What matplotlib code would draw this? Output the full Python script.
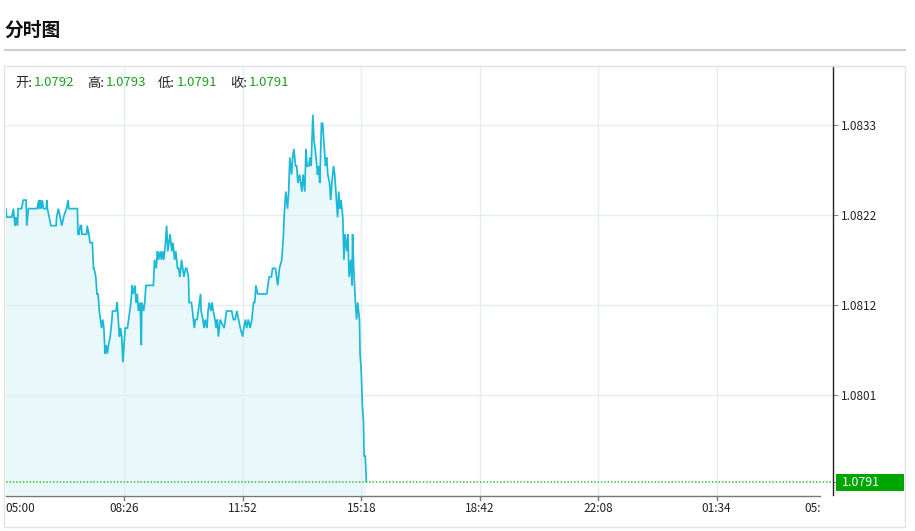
import matplotlib
matplotlib.use("Agg")
import matplotlib.pyplot as plt
from matplotlib.lines import Line2D
from matplotlib.patches import Rectangle
from matplotlib.transforms import Bbox

plt.rcParams['font.family'] = ['Noto Sans CJK SC', 'DejaVu Sans']

# ---------------- data ----------------
title = "分时图"
ohlc_names = ["开", "高", "低", "收"]
ohlc_values = ["1.0792", "1.0793", "1.0791", "1.0791"]
last_price = 1.0791

x_tick_labels = ["05:00", "08:26", "11:52", "15:18", "18:42", "22:08", "01:34", "05:00"]
y_tick_values = [1.08328, 1.08223, 1.08117, 1.08012]

# minutes since 05:00
minutes = [0, 1, 10, 13, 14, 16, 17, 20, 21, 27, 30, 35, 36, 39, 54, 57, 58, 59, 61, 63,
           65, 70, 71, 72, 75, 78, 87, 88, 91, 94, 97, 100, 105, 108, 109, 124, 125, 127, 129, 131,
           132, 140, 141, 144, 146, 150, 152, 153, 156, 158, 160, 162, 164, 166, 168, 170, 172, 174, 176, 178,
           181, 184, 185, 191, 193, 195, 197, 199, 201, 203, 205, 207, 211, 213, 217, 219, 221, 224, 226, 228,
           230, 233, 235, 236, 239, 241, 243, 256, 258, 261, 263, 265, 268, 270, 272, 274, 277, 279, 281, 283,
           285, 288, 290, 293, 295, 298, 300, 302, 305, 307, 309, 312, 314, 317, 318, 322, 324, 327, 329, 332,
           336, 338, 339, 342, 344, 346, 349, 351, 353, 356, 358, 360, 363, 365, 367, 369, 372, 379, 381, 383,
           392, 395, 398, 401, 404, 407, 411, 413, 416, 418, 421, 424, 427, 430, 432, 434, 437, 453, 455, 457,
           461, 463, 468, 470, 472, 475, 479, 482, 483, 485, 486, 489, 491, 493, 496, 498, 500, 503, 505, 507,
           510, 512, 514, 516, 519, 521, 523, 526, 528, 530, 533, 535, 537, 540, 541, 543, 545, 548, 550, 552,
           555, 557, 559, 562, 564, 566, 569, 571, 573, 576, 578, 580, 582, 585, 587, 589, 592, 594, 596, 599,
           601, 602, 604, 607, 609, 611, 614, 615, 617, 619, 621, 622, 624, 626]
prices = [1.0823, 1.0822, 1.0822, 1.0823, 1.0822, 1.0821, 1.0822, 1.0821, 1.0823, 1.0823,
          1.0824, 1.0824, 1.0821, 1.0823, 1.0823, 1.0824, 1.0823, 1.0824, 1.0823, 1.0824,
          1.0823, 1.0823, 1.0824, 1.0823, 1.0822, 1.0821, 1.0821, 1.0822, 1.0823, 1.0822,
          1.0821, 1.0822, 1.0823, 1.0824, 1.0823, 1.0823, 1.0820, 1.0820, 1.0821, 1.0821,
          1.0820, 1.0820, 1.0821, 1.0820, 1.0819, 1.0819, 1.0816, 1.0816, 1.0815, 1.0813,
          1.0813, 1.0811, 1.0810, 1.0809, 1.0810, 1.0809, 1.0806, 1.0807, 1.0806, 1.0807,
          1.0808, 1.0810, 1.0811, 1.0811, 1.0812, 1.0810, 1.0808, 1.0809, 1.0808, 1.0805,
          1.0807, 1.0809, 1.0809, 1.0810, 1.0812, 1.0814, 1.0813, 1.0814, 1.0812, 1.0813,
          1.0811, 1.0812, 1.0807, 1.0812, 1.0811, 1.0812, 1.0814, 1.0814, 1.0817, 1.0816,
          1.0818, 1.0817, 1.0818, 1.0817, 1.0818, 1.0817, 1.0819, 1.0821, 1.0818, 1.0819,
          1.0820, 1.0818, 1.0819, 1.0817, 1.0818, 1.0816, 1.0816, 1.0815, 1.0817, 1.0816,
          1.0815, 1.0816, 1.0816, 1.0815, 1.0812, 1.0812, 1.0811, 1.0809, 1.0810, 1.0810,
          1.0812, 1.0813, 1.0811, 1.0810, 1.0809, 1.0810, 1.0809, 1.0811, 1.0812, 1.0811,
          1.0812, 1.0811, 1.0810, 1.0809, 1.0810, 1.0808, 1.0810, 1.0809, 1.0810, 1.0811,
          1.0811, 1.0810, 1.0810, 1.0811, 1.0810, 1.0809, 1.0808, 1.0809, 1.0810, 1.0809,
          1.0810, 1.0809, 1.0810, 1.0812, 1.0812, 1.0814, 1.0813, 1.0813, 1.0814, 1.0815,
          1.0815, 1.0816, 1.0816, 1.0815, 1.0814, 1.0816, 1.0817, 1.0820, 1.0822, 1.0824,
          1.0825, 1.0823, 1.0825, 1.0829, 1.0827, 1.0829, 1.0830, 1.0828, 1.0828, 1.0826,
          1.0827, 1.0826, 1.0825, 1.0827, 1.0825, 1.0830, 1.0828, 1.0828, 1.0829, 1.0828,
          1.0834, 1.0831, 1.0830, 1.0828, 1.0827, 1.0828, 1.0826, 1.0833, 1.0833, 1.0831,
          1.0828, 1.0829, 1.0827, 1.0826, 1.0824, 1.0826, 1.0828, 1.0827, 1.0825, 1.0822,
          1.0825, 1.0823, 1.0824, 1.0822, 1.0817, 1.0820, 1.0818, 1.0820, 1.0815, 1.0817,
          1.0814, 1.0820, 1.0816, 1.0812, 1.0810, 1.0812, 1.0810, 1.0806, 1.0804, 1.0800,
          1.0798, 1.0794, 1.0794, 1.0791]

# ---------------- figure ----------------
W, H = 915, 531
DPI = 100
fig = plt.figure(figsize=(W / DPI, H / DPI), dpi=DPI)
fig.patch.set_facecolor("white")


def fx(px):
    return px / W


def fy(py):
    return 1 - py / H


# title & header line
fig.text(fx(4), fy(30), title, fontsize=13.5, fontweight="bold", va="center", ha="left", color="#111111")
fig.add_artist(Line2D([fx(5), fx(905)], [fy(49.5), fy(49.5)], color="#cccccc", lw=1.5))

# outer frame
fig.add_artist(Rectangle((fx(4), fy(527)), fx(905) - fx(4), fy(66) - fy(527),
                         fill=False, edgecolor="#e2e2e2", lw=1.0))

# main axes
L, R, T, B = 6, 833, 66, 495
ax = fig.add_axes([fx(L), fy(B), fx(R) - fx(L), fy(T) - fy(B)])
ax.set_facecolor("none")
total_min = 1440
px_per_min = (835 - 6) / total_min
ax.set_xlim(0, (R - L) / px_per_min)
ax.set_ylim(1.078943, 1.083972)

for s in ["top", "left", "bottom"]:
    ax.spines[s].set_visible(False)
ax.spines["right"].set_color("#222222")
ax.spines["right"].set_linewidth(1.0)

# grid
tick_pos = [i * total_min / (len(x_tick_labels) - 1) for i in range(len(x_tick_labels))]
grid_c = "#e4edf1"
for tp in tick_pos[1:-1]:
    ax.axvline(tp, color=grid_c, lw=1.0, zorder=2)
for yv in y_tick_values:
    ax.axhline(yv, color=grid_c, lw=1.0, zorder=2)

# price series
ax.fill_between(minutes, prices, 1.0, color="#e9f8fa", zorder=1, lw=0)
ax.plot(minutes, prices, color="#1cb8d8", lw=1.25, zorder=3, solid_joinstyle="miter")

# last price dotted line
ax.axhline(last_price, color="#3dba3d", lw=1.1, ls=(0, (1, 1.2)), zorder=4)

# y axis on the right
ax.yaxis.tick_right()
ax.set_yticks(y_tick_values + [last_price])
ax.set_yticklabels([f"{v:.4f}" for v in y_tick_values] + [""])
ax.tick_params(axis="y", direction="out", length=3.5, width=0.8, color="#888888",
               labelsize=8.5, labelcolor="#222222", pad=2)
ax.set_xticks([])

# bottom axis line and ticks
fig.add_artist(Line2D([fx(6), fx(820)], [fy(495.5), fy(495.5)], color="#777777", lw=1.0))
n = len(x_tick_labels)
for i, (tp, lab) in enumerate(zip(tick_pos, x_tick_labels)):
    xpix = 6 + tp * px_per_min
    if 0 < i < n - 1:
        fig.add_artist(Line2D([fx(xpix), fx(xpix)], [fy(495.5), fy(500)], color="#777777", lw=1.0))
    if i == 0:
        t = fig.text(fx(5), fy(508), lab, fontsize=8.5, ha="left", va="center", color="#222222")
    elif i == n - 1:
        t = fig.text(fx(804), fy(508), lab, fontsize=8.5, ha="left", va="center", color="#222222")
        t.set_clip_on(True)
        t.set_clip_box(Bbox.from_extents(0, 0, 821, H))
    else:
        fig.text(fx(xpix), fy(508), lab, fontsize=8.5, ha="center", va="center", color="#222222")

# green last price box
fig.add_artist(Rectangle((fx(836), fy(490.5)), fx(904) - fx(836), fy(473.5) - fy(490.5),
                         facecolor="#00a600", edgecolor="none"))
fig.text(fx(842), fy(483), f"{last_price:.4f}", fontsize=9, color="white", ha="left", va="center")

# OHLC header
name_x = [15, 87, 158, 230]
for nx, nm, val in zip(name_x, ohlc_names, ohlc_values):
    fig.text(fx(nx), fy(83), nm + ":", fontsize=9.5, color="#222222", ha="left", va="center")
    fig.text(fx(nx + 19), fy(83), val, fontsize=9.5, color="#1e9e1e", ha="left", va="center")

fig.savefig("out.png", dpi=DPI, facecolor="white")
